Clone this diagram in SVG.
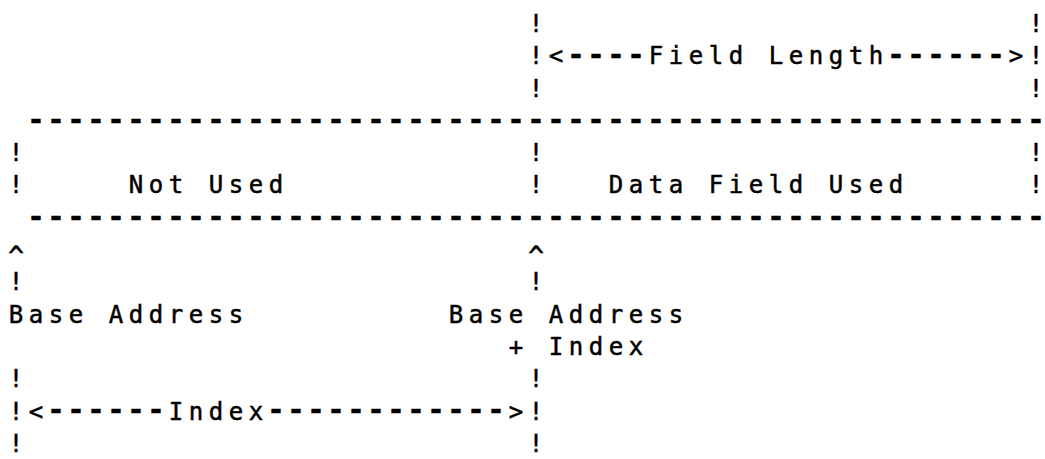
<svg xmlns="http://www.w3.org/2000/svg" width="1045" height="459" viewBox="0 0 1045 459">
<style>
.m{font-family:"DejaVu Sans Mono","Liberation Mono",monospace;font-size:24px;text-anchor:middle;fill:#000;stroke:#000;stroke-width:0.5px}
.d{font-family:"DejaVu Sans Mono","Liberation Mono",monospace;font-size:29px;font-weight:bold;text-anchor:middle;fill:#000;stroke:#000;stroke-width:0.4px}
.c{font-family:"DejaVu Sans Mono","Liberation Mono",monospace;font-size:26px;text-anchor:middle;fill:#000;stroke:#000;stroke-width:0.6px}
</style>
<rect width="1045" height="459" fill="#fff"/>
<g id="connectors">
  <g id="field-length">
    <text class="m" x="536" y="31.9">!</text>
    <text class="m" x="1036" y="31.9">!</text>
    <text class="m" x="536 556" y="64.2">!&lt;</text>
    <text class="d" x="576 596 616 636" y="64.1">----</text>
    <text class="m" x="656 676 696 716 736 756 776 796 816 836 856 876" y="64.2">Field Length</text>
    <text class="d" x="896 916 936 956 976 996" y="64.1">------</text>
    <text class="m" x="1016 1036" y="64.2">&gt;!</text>
    <text class="m" x="536" y="96.5">!</text>
    <text class="m" x="1036" y="96.5">!</text>
  </g>
  <g id="leader-base">
    <text class="c" x="16" y="265">^</text>
    <text class="m" x="16" y="290.3">!</text>
  </g>
  <g id="leader-index">
    <text class="c" x="536" y="265">^</text>
    <text class="m" x="536" y="290.3">!</text>
  </g>
  <g id="index">
    <text class="m" x="16" y="387.2">!</text>
    <text class="m" x="536" y="387.2">!</text>
    <text class="m" x="16 36" y="419.5">!&lt;</text>
    <text class="d" x="56 76 96 116 136 156" y="419.4">------</text>
    <text class="m" x="176 196 216 236 256" y="419.5">Index</text>
    <text class="d" x="276 296 316 336 356 376 396 416 436 456 476 496" y="419.4">------------</text>
    <text class="m" x="516 536" y="419.5">&gt;!</text>
    <text class="m" x="16" y="451.8">!</text>
    <text class="m" x="536" y="451.8">!</text>
  </g>
</g>
<g id="record-frame">
  <text class="d" x="36 56 76 96 116 136 156 176 196 216 236 256 276 296 316 336 356 376 396 416 436 456 476 496 516 536 556 576 596 616 636 656 676 696 716 736 756 776 796 816 836 856 876 896 916 936 956 976 996 1016 1036" y="128.7">---------------------------------------------------</text>
  <text class="d" x="36 56 76 96 116 136 156 176 196 216 236 256 276 296 316 336 356 376 396 416 436 456 476 496 516 536 556 576 596 616 636 656 676 696 716 736 756 776 796 816 836 856 876 896 916 936 956 976 996 1016 1036" y="225.6">---------------------------------------------------</text>
</g>
<g id="node-not-used">
  <text class="m" x="16" y="161.1">!</text>
  <text class="m" x="16" y="193.4">!</text>
  <text class="m" x="136 156 176 196 216 236 256 276" y="193.4">Not Used</text>
</g>
<g id="node-data-field-used">
  <text class="m" x="536" y="161.1">!</text>
  <text class="m" x="536" y="193.4">!</text>
  <text class="m" x="616 636 656 676 696 716 736 756 776 796 816 836 856 876 896" y="193.4">Data Field Used</text>
  <text class="m" x="1036" y="161.1">!</text>
  <text class="m" x="1036" y="193.4">!</text>
</g>
<g id="label-base-address">
  <text class="m" x="16 36 56 76 96 116 136 156 176 196 216 236" y="322.6">Base Address</text>
</g>
<g id="label-base-address-index">
  <text class="m" x="456 476 496 516 536 556 576 596 616 636 656 676" y="322.6">Base Address</text>
  <text class="m" x="516" y="354.9">+</text>
  <text class="m" x="556 576 596 616 636" y="354.9">Index</text>
</g>
</svg>
